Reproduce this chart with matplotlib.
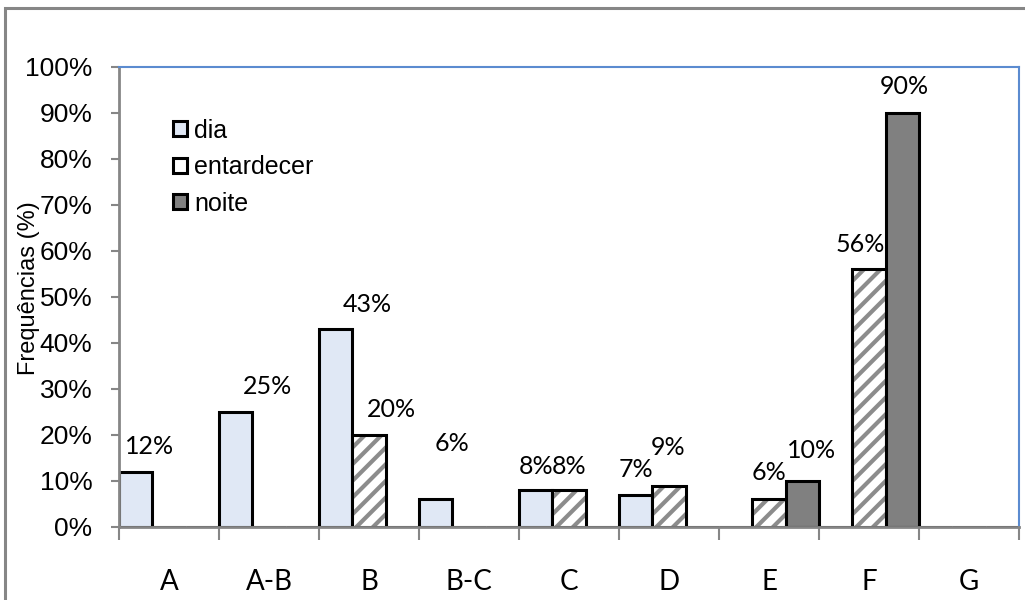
import numpy as np
import matplotlib.pyplot as plt
from matplotlib.patches import Patch, Rectangle
from matplotlib.legend_handler import HandlerTuple
from matplotlib.ticker import PercentFormatter

# frequências por período do dia (%)
categorias = ['A', 'A-B', 'B', 'B-C', 'C', 'D', 'E', 'F', 'G']
dia = [12, 25, 43, 6, 8, 7, 0, 0, 0]
entardecer = [0, 0, 20, 0, 8, 9, 6, 56, 0]
noite = [0, 0, 0, 0, 0, 0, 10, 90, 0]
series = ['dia', 'entardecer', 'noite']

# deslocamento dos rótulos (px) em relação ao topo da barra: (serie, categoria) -> (dx, dy)
desloc = {
    (0, 0): (14, 27), (0, 1): (32, 27), (0, 2): (32, 26), (0, 3): (16, 57),
    (0, 4): (0, 25), (1, 4): (0, 25), (0, 5): (0, 27), (1, 5): (-1, 40),
    (1, 2): (22, 27), (1, 6): (0, 28), (2, 6): (9, 32),
    (1, 7): (-9, 26), (2, 7): (2, 28),
}

plt.rcParams['hatch.linewidth'] = 3.0
cinza = '#868686'
fonte_eixo = 'Liberation Sans'
fonte_rot = 'Lato'

fig = plt.figure(figsize=(10.25, 6), dpi=100)
ax = fig.add_axes([119 / 1025, 73 / 600, 900 / 1025, 460 / 600])

# moldura exterior do gráfico
fig.patches.append(Rectangle((5 / 1025, -0.05), 1.2, 592 / 600 + 0.05,
                             transform=fig.transFigure, fill=False,
                             edgecolor=cinza, linewidth=2.2, clip_on=False))

estilos = [
    dict(facecolor='#e0e8f5', hatch=None, hcolor='#e0e8f5'),
    dict(facecolor='white', hatch='//', hcolor='#8c8c8c'),
    dict(facecolor='#808080', hatch=None, hcolor='#808080'),
]

x = np.arange(len(categorias))
w = 1 / 3
handles = []
for k, (vals, st) in enumerate(zip([dia, entardecer, noite], estilos)):
    v = np.array(vals) / 100
    # preenchimento com trama
    ax.bar(x + k * w, v, w, align='edge', color=st['facecolor'],
           hatch=st['hatch'], edgecolor=st['hcolor'], linewidth=0)
    # contorno preto
    ax.bar(x + k * w, v, w, align='edge', fill=False,
           edgecolor='black', linewidth=2.2)
    for xi, vi in zip(x, vals):
        if vi > 0:
            dx, dy = desloc.get((k, xi), (0, 27))
            ax.annotate(f'{vi}%', (xi + k * w + w / 2, vi / 100),
                        xytext=(dx * 0.72, (dy - 9) * 0.72),
                        textcoords='offset points',
                        ha='center', va='baseline', fontsize=18,
                        family=fonte_rot)
    handles.append((Patch(facecolor=st['facecolor'], hatch=None,
                          edgecolor=st['hcolor'], linewidth=0),
                    Patch(fill=False, edgecolor='black', linewidth=2.2)))

ax.set_xlim(0, len(categorias))
ax.set_ylim(0, 1)

for lado in ['top', 'right']:
    ax.spines[lado].set_color('#5b8bd0')
    ax.spines[lado].set_linewidth(1.5)
for lado in ['left', 'bottom']:
    ax.spines[lado].set_color(cinza)
    ax.spines[lado].set_linewidth(2)

ax.set_yticks(np.arange(0, 1.01, 0.1))
ax.yaxis.set_major_formatter(PercentFormatter(1.0, decimals=0))
ax.tick_params(axis='y', length=6, width=1.5, color=cinza, pad=13,
               labelsize=19)
for t in ax.get_yticklabels():
    t.set_family(fonte_eixo)

ax.set_xticks(x + 0.5)
ax.set_xticklabels(categorias, family=fonte_rot, fontsize=20)
ax.set_xticks(np.arange(len(categorias) + 1), minor=True)
ax.tick_params(axis='x', which='major', length=0, pad=30)
ax.tick_params(axis='x', which='minor', length=9, width=1.5, color=cinza)

ax.set_ylabel('Frequências (%)', family=fonte_eixo, fontsize=17)
ax.yaxis.set_label_coords(-0.088, 0.52)

ax.legend(handles, series, handler_map={tuple: HandlerTuple(ndivide=1)},
          loc='upper left', bbox_to_anchor=(0.046, 0.915), frameon=False,
          handlelength=0.55, handleheight=0.55, handletextpad=0.3,
          labelspacing=0.5, borderpad=0,
          prop={'family': fonte_eixo, 'size': 18})

fig.savefig('out.png', dpi=100)
